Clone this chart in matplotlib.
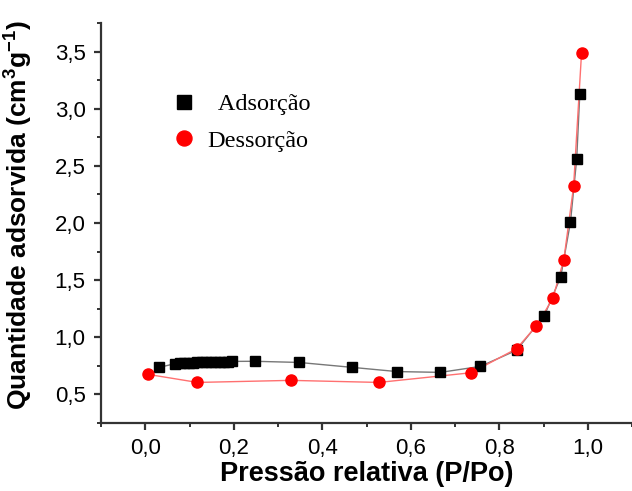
import matplotlib
matplotlib.use("Agg")
import matplotlib.pyplot as plt
from matplotlib.ticker import MultipleLocator, FuncFormatter

ads_x = [0.032, 0.068, 0.078, 0.088, 0.098, 0.108, 0.118, 0.128, 0.138, 0.148,
         0.158, 0.168, 0.178, 0.188, 0.197, 0.247, 0.347, 0.467, 0.569, 0.667,
         0.757, 0.839, 0.902, 0.939, 0.961, 0.975, 0.982]
ads_y = [0.737, 0.770, 0.772, 0.775, 0.777, 0.778, 0.780, 0.781, 0.783, 0.784,
         0.785, 0.786, 0.787, 0.788, 0.789, 0.790, 0.780, 0.737, 0.700, 0.693,
         0.745, 0.886, 1.19, 1.53, 2.01, 2.56, 3.13]

des_x = [0.986, 0.968, 0.946, 0.921, 0.884, 0.839, 0.737, 0.528, 0.329, 0.118, 0.007]
des_y = [3.49, 2.32, 1.68, 1.34, 1.10, 0.90, 0.69, 0.605, 0.623, 0.605, 0.675]

labels = ["  Adsorção", "Dessorção"]
xlabel = "Pressão relativa (P/Po)"
ylabel = "Quantidade adsorvida (cm$\\mathbf{^{3}}$g$\\mathbf{^{-1}}$)"

plt.rcParams['font.family'] = ['Liberation Sans', 'DejaVu Sans']
plt.rcParams['mathtext.fontset'] = 'custom'
plt.rcParams['mathtext.rm'] = 'Liberation Sans'
plt.rcParams['mathtext.bf'] = 'Liberation Sans:bold'

fig = plt.figure(figsize=(6.32, 4.91), dpi=100)
ax = fig.add_axes([101/632, 1-423/491, 531/632, 400/491])

spine_c = '#333333'
ax.plot(ads_x, ads_y, '-', color='#777777', lw=1.0, zorder=2)
ax.plot(des_x, des_y, '-', color='#ff7070', lw=1.0, zorder=2)
h1, = ax.plot(ads_x, ads_y, 's', color='black', ms=7.5, zorder=3, label=labels[0])
h2, = ax.plot(des_x, des_y, 'o', color='#ff0000', ms=8, zorder=4, label=labels[1])

ax.set_xlim(-0.1, 1.1)
ax.set_ylim(0.25, 3.75)
ax.xaxis.set_major_locator(MultipleLocator(0.2))
ax.xaxis.set_minor_locator(MultipleLocator(0.1))
ax.yaxis.set_major_locator(MultipleLocator(0.5))
ax.yaxis.set_minor_locator(MultipleLocator(0.25))
fmt = FuncFormatter(lambda v, p: f"{v:.1f}".replace('.', ','))
ax.xaxis.set_major_formatter(fmt)
ax.yaxis.set_major_formatter(fmt)

for s in ['top', 'right']:
    ax.spines[s].set_visible(False)
for s in ['left', 'bottom']:
    ax.spines[s].set_linewidth(1.6)
    ax.spines[s].set_color(spine_c)

ax.tick_params(which='major', direction='out', length=5, width=1.6, color=spine_c,
               labelsize=16, pad=6)
ax.tick_params(which='minor', direction='out', length=3, width=1.4, color=spine_c)

ax.set_xlabel(xlabel, fontsize=19.5, fontweight='bold')
ax.xaxis.set_label_coords(0.5, -0.095)
ax.set_ylabel(ylabel, fontsize=19, fontweight='bold')
ax.yaxis.set_label_coords(-0.125, 0.52)

leg = ax.legend(handles=[h1, h2], loc='upper left', bbox_to_anchor=(0.134, 0.825),
                frameon=False, prop={'family': 'Liberation Serif', 'size': 17.5},
                handlelength=1.0, handletextpad=0.45, borderpad=0, borderaxespad=0,
                labelspacing=0.6, markerscale=1.35)

fig.savefig("out.png", dpi=100)
